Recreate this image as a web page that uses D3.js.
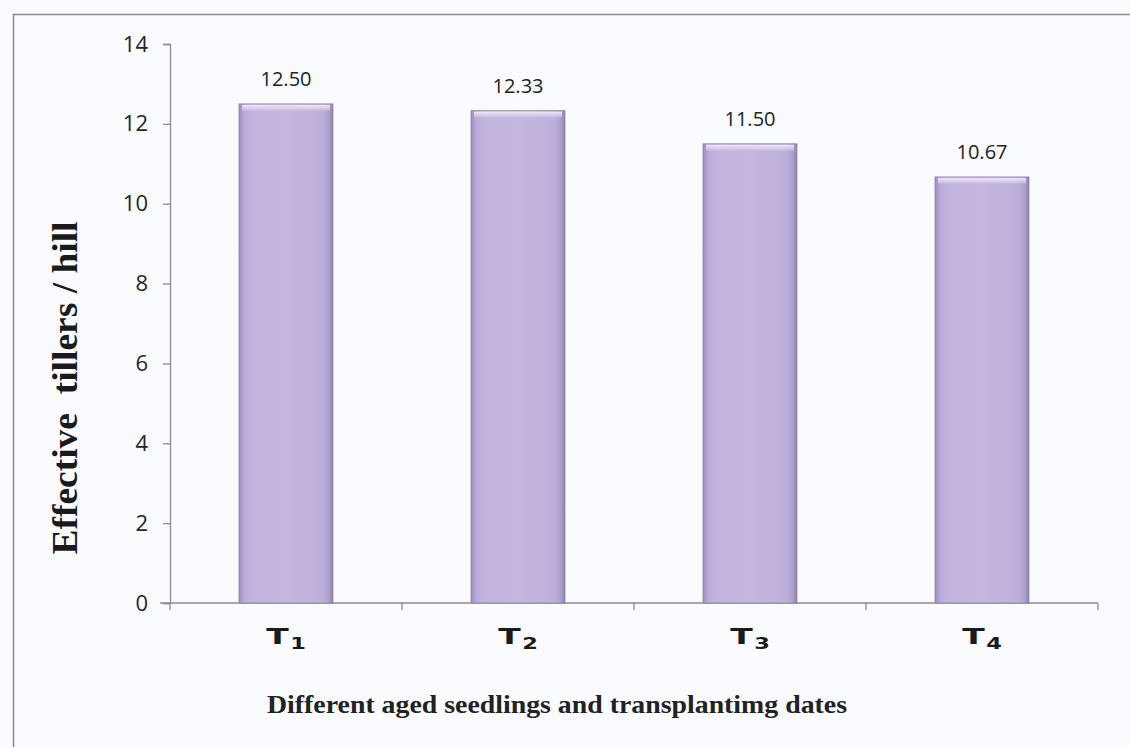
<!DOCTYPE html>
<html>
<head>
<meta charset="utf-8">
<script src="https://cdn.jsdelivr.net/npm/d3@7"></script>
<style>
  html, body { margin: 0; padding: 0; background: #fafbfe; }
  svg { display: block; }
</style>
</head>
<body>
<svg id="chart" width="1130" height="747"></svg>
<script>
const categories = ["T1", "T2", "T3", "T4"];
const subscripts = ["1", "2", "3", "4"];
const values = [12.50, 12.33, 11.50, 10.67];
const valueLabels = ["12.50", "12.33", "11.50", "10.67"];
const yTicks = [0, 2, 4, 6, 8, 10, 12, 14];
const yTitle = "Effective  tillers / hill";
const xTitle = "Different aged seedlings and transplantimg dates";

(function () {
const svg = d3.select("#chart");
const W = 1130, H = 747;

svg.append("rect").attr("x", 0).attr("y", 0).attr("width", W).attr("height", H).attr("fill", "#fafbfe");
// outer frame
svg.append("rect").attr("x", 13.5).attr("y", 14.5).attr("width", 1200).attr("height", 800)
  .attr("fill", "none").attr("stroke", "#8a8a8a").attr("stroke-width", 1.5);

const pLeft = 170, pRight = 1098, pTop = 44, pBottom = 603;

const x = d3.scaleBand().domain(categories).range([pLeft, pRight])
  .paddingInner(0.595).paddingOuter(0.2975);
const y = d3.scaleLinear().domain([0, 14]).range([pBottom, pTop]);

const defs = svg.append("defs");
const grad = defs.append("linearGradient").attr("id", "barGrad")
  .attr("x1", "0").attr("x2", "1").attr("y1", "0").attr("y2", "0");
[["0%", "#9c8cbd"], ["5%", "#b8a8d6"], ["12%", "#c2b3de"], ["50%", "#c4b6df"],
 ["88%", "#bfb0db"], ["95%", "#b0a0cf"], ["100%", "#9080b0"]].forEach(([o, c]) =>
  grad.append("stop").attr("offset", o).attr("stop-color", c));
const bevel = defs.append("linearGradient").attr("id", "bevelGrad")
  .attr("x1", "0").attr("x2", "0").attr("y1", "0").attr("y2", "1");
[["0%", "#f0eaf8", 0.95], ["60%", "#e2d8f0", 0.6], ["100%", "#c4b6df", 0]].forEach(([o, c, a]) =>
  bevel.append("stop").attr("offset", o).attr("stop-color", c).attr("stop-opacity", a));

// y axis
const yAxis = d3.axisLeft(y).tickValues(yTicks).tickSize(7).tickPadding(15).tickFormat(d3.format("d"));
const gy = svg.append("g").attr("transform", `translate(${pLeft},0)`).call(yAxis);
gy.select(".domain").attr("stroke", "#8c8c8c").attr("stroke-width", 1.3);
gy.selectAll(".tick line").attr("stroke", "#8c8c8c").attr("stroke-width", 1.3);
gy.selectAll(".tick text").attr("font-family", "'Open Sans', 'Liberation Sans', sans-serif")
  .attr("font-size", 22).attr("fill", "#262626");

// x axis
const gx = svg.append("g").attr("transform", `translate(0,${pBottom})`);
gx.append("line").attr("x1", pLeft - 10).attr("x2", pRight).attr("y1", 0).attr("y2", 0)
  .attr("stroke", "#8c8c8c").attr("stroke-width", 1.3);
const boundaries = categories.map(c => x(c) - x.step() * x.paddingInner() / 2).concat([pRight]);
gx.selectAll("line.b").data(boundaries).join("line").attr("class", "b")
  .attr("x1", d => d).attr("x2", d => d).attr("y1", 0).attr("y2", 7)
  .attr("stroke", "#8c8c8c").attr("stroke-width", 1.3);

// bars
const bars = svg.append("g").selectAll("g.bar").data(values).join("g").attr("class", "bar");
bars.append("rect")
  .attr("x", (d, i) => x(categories[i]))
  .attr("y", d => y(d))
  .attr("width", x.bandwidth())
  .attr("height", d => y(0) - y(d))
  .attr("fill", "url(#barGrad)")
  .attr("stroke", "#8c7fa8").attr("stroke-width", 0.8);
// top bevel highlight
bars.append("rect")
  .attr("x", (d, i) => x(categories[i]) + 3)
  .attr("y", d => y(d) + 1)
  .attr("width", x.bandwidth() - 6)
  .attr("height", 7)
  .attr("fill", "url(#bevelGrad)");

// value labels
svg.append("g").selectAll("text").data(values).join("text")
  .attr("x", (d, i) => x(categories[i]) + x.bandwidth() / 2)
  .attr("y", d => y(d) - 18)
  .attr("text-anchor", "middle")
  .attr("font-family", "'Open Sans', 'Liberation Sans', sans-serif")
  .attr("font-size", 20).attr("fill", "#222")
  .text((d, i) => valueLabels[i]);

// category labels (wide, bold)
const cg = svg.append("g").selectAll("g").data(categories).join("g")
  .attr("transform", (d, i) => `translate(${x(d) + x.bandwidth() / 2},644) scale(1.5,1)`);
const cl = cg.append("text")
  .attr("text-anchor", "middle")
  .attr("font-family", "'DejaVu Sans', sans-serif")
  .attr("font-weight", "bold")
  .attr("font-size", 22).attr("fill", "#1a1a1a");
cl.append("tspan").text(d => d.charAt(0));
cl.append("tspan").attr("font-size", 15).attr("dy", 5).attr("dx", 1).text((d, i) => subscripts[i]);

// axis titles
svg.append("text")
  .attr("transform", "translate(77,388) rotate(-90)")
  .attr("text-anchor", "middle")
  .attr("font-family", "'Liberation Serif', 'Times New Roman', serif")
  .attr("font-weight", "bold").attr("font-size", 36).attr("fill", "#1a1a1a")
  .attr("xml:space", "preserve")
  .attr("textLength", 333).attr("lengthAdjust", "spacingAndGlyphs")
  .text(yTitle);

svg.append("text")
  .attr("x", 557).attr("y", 713)
  .attr("text-anchor", "middle")
  .attr("font-family", "'Liberation Serif', 'Times New Roman', serif")
  .attr("font-weight", "bold").attr("font-size", 26).attr("fill", "#222")
  .attr("textLength", 580).attr("lengthAdjust", "spacingAndGlyphs")
  .text(xTitle);
})();
</script>
</body>
</html>
